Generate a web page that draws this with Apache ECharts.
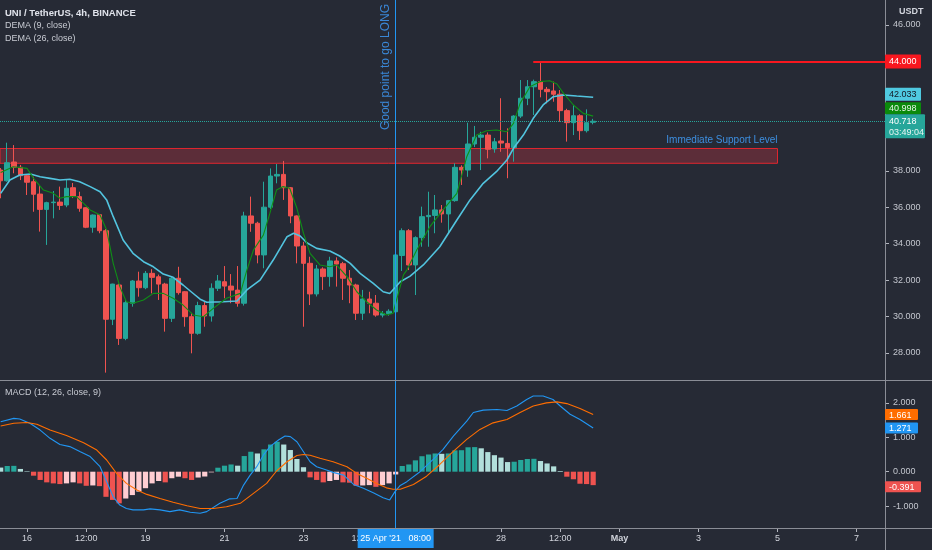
<!DOCTYPE html>
<html><head><meta charset="utf-8">
<script src="https://cdn.jsdelivr.net/npm/echarts@6/dist/echarts.min.js"></script>
<style>html,body{margin:0;padding:0;background:#262a35;}#c{width:932px;height:550px;}</style>
</head><body><div id="c"></div>
<script>
// ---- candles (index 0 = 15 Apr 08:00, 4h each) ----
const opens  = [38.04,37.45,38.48,38.19,37.73,37.40,36.72,35.88,36.25,36.28,36.12,37.07,36.58,35.97,34.90,35.59,34.71,29.85,31.73,28.80,30.73,31.95,31.58,32.37,32.18,31.78,29.90,32.10,31.36,29.99,29.08,30.60,30.03,31.55,31.91,31.67,31.45,30.73,35.52,35.12,33.38,36.00,37.71,37.80,37.07,35.52,33.87,32.92,31.24,32.61,32.19,33.05,32.90,32.10,31.73,30.18,30.96,30.73,30.08,30.16,30.26,33.35,34.71,32.83,34.33,35.48,35.55,35.85,35.63,36.36,38.19,38.04,39.47,39.84,39.96,39.20,39.63,39.50,39.27,41.00,41.98,42.61,42.89,42.47,42.38,42.20,41.30,40.64,41.02,40.20,40.66];
const closes = [37.45,38.44,38.19,37.73,37.37,36.71,35.88,36.25,36.28,36.10,37.04,36.61,35.94,34.90,35.57,34.71,29.85,31.78,28.80,30.76,31.95,31.58,32.37,32.15,31.78,29.90,32.10,31.31,29.99,29.08,30.60,30.03,31.55,31.95,31.67,31.45,30.73,35.52,35.12,33.38,36.00,37.71,37.80,37.07,35.52,33.87,32.92,31.24,32.61,32.19,33.05,32.88,32.10,31.73,30.18,30.96,30.73,30.08,30.16,30.29,33.38,34.71,32.83,34.33,35.48,35.55,35.85,35.63,36.36,38.19,38.04,39.47,39.84,39.96,39.18,39.59,39.52,39.27,41.00,41.98,42.61,42.89,42.47,42.34,42.20,41.30,40.64,41.02,40.20,40.64,40.718];
const lows   = [36.49,37.40,37.86,37.49,36.67,35.75,34.66,33.93,35.39,35.85,36.00,36.50,35.75,34.85,34.60,34.57,26.92,29.53,28.44,28.70,30.54,31.09,31.50,31.27,30.91,29.17,29.70,31.20,29.44,27.98,29.00,29.44,29.72,31.40,31.00,30.73,30.54,30.60,34.65,32.92,32.65,35.90,37.31,36.40,35.12,32.92,29.44,30.63,31.10,31.46,31.64,31.64,30.91,30.73,29.81,29.81,30.18,29.99,29.95,30.05,30.20,32.50,32.55,31.18,33.83,33.83,34.57,35.15,34.57,36.30,37.22,37.67,39.30,38.04,38.68,38.99,39.04,37.59,38.50,40.90,41.60,41.06,42.03,41.70,41.79,40.69,39.60,39.96,39.69,40.10,40.55];
const highs  = [38.15,39.54,39.41,38.32,37.80,37.67,37.22,36.30,36.89,37.13,37.53,37.33,36.85,36.00,35.60,35.62,34.80,31.80,31.80,30.90,32.00,32.46,32.50,32.60,32.30,31.85,32.22,32.73,31.40,30.20,30.81,30.80,31.82,32.28,32.77,32.33,32.77,35.75,36.58,35.20,37.40,38.13,38.37,38.54,37.10,35.55,34.10,33.28,32.83,32.70,33.28,33.25,33.00,32.55,31.80,31.46,31.36,31.18,30.30,30.40,33.45,34.84,34.80,34.40,36.03,36.85,36.67,36.12,36.40,38.41,38.30,40.64,40.46,40.14,40.10,39.80,41.98,40.33,41.05,42.98,42.98,43.00,44.00,42.60,42.89,42.43,41.40,41.61,41.10,41.37,40.85];
// ---- DEMA lines [candle index, value] ----
const dema9 = [[0,37.9],[1.9,38.22],[4,38.13],[5,37.58],[6.5,36.94],[8,36.76],[9,36.49],[10,36.58],[11.5,36.58],[12.6,36.21],[13.6,35.85],[15.1,35.57],[16.1,34.75],[17.1,32.92],[18.1,31.64],[19.1,30.81],[20.1,30.73],[21.7,30.91],[23.2,31.27],[24.7,31.27],[26.2,31.0],[27.7,30.63],[29.3,30.08],[30.8,29.99],[32.3,30.45],[34.3,31.0],[36.4,31.27],[37.4,32.55],[38.4,33.65],[39.9,34.47],[40.9,35.67],[41.9,36.94],[42.9,37.13],[43.9,37.04],[45,35.94],[46,34.57],[47,33.47],[48.5,32.83],[50,32.73],[51,32.83],[52.6,32.19],[54.1,31.36],[55.6,30.81],[57.1,30.36],[58.6,30.08],[59.6,30.18],[60.2,31.0],[61.2,32.3],[61.7,32.55],[63.2,33.65],[65.2,34.93],[67.2,35.85],[69.3,36.76],[70.8,38.77],[72.3,39.96],[73.8,40.20],[75.3,40.24],[76.9,40.14],[77.9,40.60],[78.9,41.70],[80.4,42.61],[81.9,42.89],[83.4,42.94],[84.5,42.76],[85.5,42.25],[87,41.61],[88.5,41.15],[90,40.998]];
const dema26 = [[0,36.76],[1.4,37.49],[2.9,37.77],[4.5,37.82],[6,37.67],[7.5,37.58],[9,37.49],[10.5,37.53],[12,37.40],[13.6,37.13],[15.1,36.85],[16.1,36.40],[17.1,35.48],[18.6,34.20],[20.1,33.47],[21.7,33.01],[23.2,32.73],[24.7,32.33],[26.2,32.15],[27.7,31.73],[29.3,31.25],[30.3,30.95],[31.3,30.78],[33.8,30.81],[35.9,30.85],[37.4,31.46],[39.4,32.0],[41.4,33.10],[43.5,34.38],[44.5,34.57],[45.5,34.42],[46.5,34.05],[48,33.74],[50,33.60],[51.5,33.32],[53.1,32.92],[54.6,32.37],[56.6,31.82],[58.1,31.36],[59.1,31.26],[60.7,31.91],[62.2,32.22],[64.2,32.83],[66.7,33.83],[69.3,35.30],[71.3,36.40],[73.3,37.31],[75.3,37.95],[76.9,38.59],[77.9,39.23],[79.4,39.96],[80.9,40.88],[82.4,41.61],[83.9,42.06],[85.5,42.16],[87.5,42.10],[90,42.033]];
// ---- MACD ----
const macdLine = [[0,1.45],[2,1.55],[2.9,1.53],[4.5,1.40],[6,1.21],[7.5,0.97],[9,0.79],[10.5,0.73],[12.1,0.58],[13.6,0.44],[15.1,0.145],[16.1,-0.29],[17.1,-0.73],[18.1,-0.97],[19.1,-1.07],[20.1,-1.11],[21.7,-1.11],[22.7,-1.08],[24.2,-1.11],[25.7,-1.16],[27.2,-1.11],[28.8,-1.18],[30.3,-1.21],[31.3,-1.16],[33.3,-0.92],[34.8,-0.79],[35.9,-0.78],[36.9,-0.39],[37.9,-0.10],[38.9,0.145],[39.9,0.48],[40.9,0.73],[42.2,0.92],[43.2,1.04],[44,1.02],[45,0.87],[46,0.58],[47,0.29],[48,0.145],[49.5,0.05],[50.5,-0.02],[52.1,-0.10],[53.6,-0.37],[55.1,-0.48],[56.6,-0.61],[58.1,-0.76],[59.1,-0.82],[59.9,-0.58],[60.7,-0.40],[61.7,-0.29],[63.7,0],[65.7,0.36],[67.2,0.65],[68.8,1.04],[70.8,1.47],[71.8,1.72],[73.3,1.79],[75.4,1.81],[76.9,1.78],[78.4,1.91],[79.9,2.10],[80.9,2.2],[82.4,2.2],[83.9,2.10],[85,1.91],[86.5,1.67],[88,1.52],[90,1.271]];
const signalLine = [[0,1.33],[2,1.41],[4,1.43],[5.5,1.38],[7.5,1.21],[10,1.05],[12.6,0.84],[14.6,0.63],[16.1,0.34],[17.6,-0.05],[19.1,-0.34],[20.7,-0.53],[22.2,-0.66],[24.2,-0.78],[26.2,-0.89],[28.3,-0.99],[30.3,-1.07],[32.3,-1.07],[34.3,-1.02],[36.4,-0.92],[38.4,-0.63],[40.4,-0.34],[41.9,0.02],[43.5,0.29],[45,0.47],[46,0.50],[47,0.48],[48.5,0.39],[50.5,0.29],[52.6,0.145],[54.1,-0.05],[55.6,-0.19],[57.1,-0.34],[58.6,-0.47],[59.6,-0.51],[60.7,-0.51],[62.7,-0.37],[64.7,-0.13],[66.7,0.21],[68.8,0.60],[70.8,0.94],[72.8,1.23],[74.8,1.42],[76.9,1.52],[78.9,1.72],[80.9,1.91],[82.9,2.0],[84.5,2.03],[86,1.98],[88,1.84],[90,1.661]];
const histogram = [0.12,0.165,0.17,0.08,0.015,-0.116,-0.24,-0.31,-0.34,-0.36,-0.34,-0.31,-0.34,-0.41,-0.40,-0.42,-0.73,-0.82,-0.92,-0.78,-0.68,-0.58,-0.48,-0.34,-0.27,-0.31,-0.19,-0.145,-0.19,-0.24,-0.17,-0.14,-0.02,0.116,0.175,0.21,0.175,0.455,0.58,0.53,0.65,0.79,0.87,0.79,0.63,0.37,0.13,-0.165,-0.24,-0.31,-0.27,-0.24,-0.31,-0.32,-0.41,-0.40,-0.39,-0.44,-0.39,-0.34,-0.08,0.165,0.21,0.33,0.45,0.50,0.53,0.52,0.53,0.62,0.625,0.71,0.715,0.68,0.57,0.48,0.41,0.28,0.29,0.34,0.37,0.375,0.31,0.24,0.155,0.02,-0.145,-0.22,-0.35,-0.36,-0.391];
// ---- levels / annotations ----
const resistance = 44.0;
const resistanceStart = 80.9;
const supportZone = [38.41, 39.22];
const supportZoneEnd = 118;
const entryIdx = 60;
const entryLabel = "25 Apr '21   08:00";
const countdown = '03:49:04';
// ---- ticks ----
const priceTicks = [28,30,32,34,36,38,40,42,44,46];
const macdTicks = [-1,0,1,2];
const timeTickIdx = [4,13,22,34,46,55,76,85,94,106,118,130];
const timeTickText = ['16','12:00','19','21','23','12:00','28','12:00','May','3','5','7'];

const FONT = '"Liberation Sans", Arial, sans-serif';
const UP = '#26a69a', DOWN = '#ef5350';
const X_MIN = -0.1, X_MAX = 134.33;

const histColors = histogram.map((v, i) => {
  const prev = i === 0 ? v + 0.05 : histogram[i - 1];
  if (v >= 0) return v >= prev ? '#26a69a' : '#b2dfdb';
  return v < prev ? '#ef5350' : '#ffcdd2';
});

const option = {
  backgroundColor: '#262a35',
  animation: false,
  grid: [
    {left: 0, right: 47, top: 0, height: 380},
    {left: 0, right: 47, top: 381, height: 147}
  ],
  xAxis: [
    {type: 'value', gridIndex: 0, min: X_MIN, max: X_MAX, show: false, axisLine: {onZero: false}},
    {type: 'value', gridIndex: 1, min: X_MIN, max: X_MAX, position: 'bottom',
     axisLine: {show: false, onZero: false}, splitLine: {show: false},
     axisTick: {show: true, customValues: timeTickIdx, length: 4, lineStyle: {color: '#b2b5be'}},
     axisLabel: {customValues: timeTickIdx, margin: 6, color: '#d1d4dc', fontSize: 9, fontFamily: FONT,
       formatter: v => { const t = timeTickText[timeTickIdx.indexOf(v)]; return t === 'May' ? '{b|May}' : t; },
       rich: {b: {fontWeight: 'bold', fontSize: 9, color: '#d1d4dc', fontFamily: FONT}}}}
  ],
  yAxis: [
    {type: 'value', gridIndex: 0, position: 'right', min: 26.516, max: 47.372,
     axisLine: {show: false, onZero: false}, splitLine: {show: false},
     axisTick: {show: true, customValues: priceTicks, length: 4, lineStyle: {color: '#b2b5be'}},
     axisLabel: {customValues: priceTicks, margin: 8, color: '#c3c6ce', fontSize: 9, fontFamily: FONT,
       formatter: v => v.toFixed(3)}},
    {type: 'value', gridIndex: 1, position: 'right', min: -1.637, max: 2.637,
     axisLine: {show: false, onZero: false}, splitLine: {show: false},
     axisTick: {show: true, customValues: macdTicks, length: 4, lineStyle: {color: '#b2b5be'}},
     axisLabel: {customValues: macdTicks, margin: 8, color: '#c3c6ce', fontSize: 9, fontFamily: FONT,
       formatter: v => v.toFixed(3)}}
  ],
  series: [
    {type: 'candlestick', xAxisIndex: 0, yAxisIndex: 0,
     data: opens.map((o, i) => [i, o, closes[i], lows[i], highs[i]]),
     encode: {x: 0, y: [1, 2, 3, 4]},
     barWidth: 5,
     itemStyle: {color: UP, color0: DOWN, borderColor: UP, borderColor0: DOWN, borderWidth: 1},
     markArea: {silent: true,
       itemStyle: {color: 'rgba(242,54,69,0.27)', borderColor: '#e0262f', borderWidth: 1},
       data: [[{coord: [X_MIN, supportZone[1]]}, {coord: [supportZoneEnd, supportZone[0]]}]]},
     markLine: {silent: true, symbol: 'none', animation: false,
       data: [
         {yAxis: closes[closes.length - 1], lineStyle: {color: '#26a69a', type: 'dotted', width: 1}, label: {show: false}},
         [{coord: [resistanceStart, resistance]}, {coord: [X_MAX, resistance]}],
         {xAxis: entryIdx, lineStyle: {color: '#2196f3', type: 'solid', width: 1},
          label: {show: true, position: 'insideEndTop', formatter: 'Good point to go LONG',
                  color: '#3a87d6', fontSize: 12, fontFamily: FONT, distance: 4}}
       ],
       lineStyle: {color: '#f7171f', width: 2, type: 'solid'},
       label: {show: false}}
    },
    {type: 'line', xAxisIndex: 0, yAxisIndex: 0, data: dema26, showSymbol: false, smooth: false,
     lineStyle: {color: '#52c4df', width: 1.6}, z: 3},
    {type: 'line', xAxisIndex: 0, yAxisIndex: 0, data: dema9, showSymbol: false, smooth: false,
     lineStyle: {color: '#0f8f16', width: 1.1}, z: 4},
    {type: 'bar', xAxisIndex: 1, yAxisIndex: 1, barWidth: 5.2,
     data: histogram.map((v, i) => ({value: [i, v], itemStyle: {color: histColors[i]}})),
     markLine: {silent: true, symbol: 'none', animation: false,
       data: [{xAxis: entryIdx}],
       lineStyle: {color: '#2196f3', type: 'solid', width: 1}, label: {show: false}}},
    {type: 'line', xAxisIndex: 1, yAxisIndex: 1, data: macdLine, showSymbol: false,
     lineStyle: {color: '#2196f3', width: 1.1}, z: 4},
    {type: 'line', xAxisIndex: 1, yAxisIndex: 1, data: signalLine, showSymbol: false,
     lineStyle: {color: '#ff6d00', width: 1.1}, z: 4}
  ]
};

const chart = echarts.init(document.getElementById('c'));
chart.setOption(option);

const yP = v => chart.convertToPixel({yAxisIndex: 0}, v);
const yM = v => chart.convertToPixel({yAxisIndex: 1}, v);
const xP = v => chart.convertToPixel({xAxisIndex: 0}, v);

const g = [];
const txt = (id, text, x, y, opt) => g.push(Object.assign({type: 'text', id, z: 120,
  style: Object.assign({text, x, y, fill: '#d1d4dc', font: '9px ' + FONT, verticalAlign: 'middle', align: 'left'}, opt || {})}));
const line = (id, x1, y1, x2, y2, color) => g.push({type: 'line', id, z: 110, silent: true,
  shape: {x1, y1, x2, y2}, style: {stroke: color || '#8a8d96', lineWidth: 1}});
const tag = (id, text, y, w, h, bg, fg) => {
  g.push({type: 'rect', id: id + 'r', z: 130, shape: {x: 885, y: y - h / 2, width: w, height: h, r: 1}, style: {fill: bg}});
  g.push({type: 'text', id: id + 't', z: 131, style: {text, x: 889, y: y + 0.5, fill: fg, font: '9px ' + FONT, verticalAlign: 'middle', align: 'left'}});
};

// chrome
line('sep', 0, 380.5, 932, 380.5, '#8a8d96');
line('bot', 0, 528.5, 932, 528.5, '#8a8d96');
line('vax', 885.5, 0, 885.5, 550, '#8a8d96');

// legends
txt('l1', 'UNI / TetherUS, 4h, BINANCE', 5, 13, {font: 'bold 9.5px ' + FONT, fill: '#e0e3eb'});
txt('l2', 'DEMA (9, close)', 5, 26, {fill: '#c8cbd3'});
txt('l3', 'DEMA (26, close)', 5, 39, {fill: '#c8cbd3'});
txt('l4', 'MACD (12, 26, close, 9)', 5, 393, {fill: '#c8cbd3'});
txt('usdt', 'USDT', 899, 12, {font: 'bold 9px ' + FONT, fill: '#d1d4dc'});

// support label
txt('sup', 'Immediate Support Level', xP(supportZoneEnd), yP(supportZone[1]) - 8,
    {align: 'right', font: '10px ' + FONT, fill: '#3d8fe0'});

// price tags
tag('t44', resistance.toFixed(3), yP(resistance), 36, 14, '#f7171f', '#ffffff');
tag('t26', dema26[dema26.length - 1][1].toFixed(3), yP(dema26[dema26.length - 1][1]) - 3, 36, 13, '#4fc9e0', '#131722');
tag('t9', dema9[dema9.length - 1][1].toFixed(3), yP(dema9[dema9.length - 1][1]) - 8, 36, 12, '#0b8a0b', '#e6f5e6');
const lastY = yP(closes[closes.length - 1]);
g.push({type: 'rect', id: 'tcr', z: 132, shape: {x: 885, y: lastY - 7, width: 40, height: 24, r: 1}, style: {fill: '#26a69a'}});
g.push({type: 'text', id: 'tct1', z: 133, style: {text: closes[closes.length - 1].toFixed(3), x: 889, y: lastY + 0.5, fill: '#ffffff', font: '9px ' + FONT, verticalAlign: 'middle'}});
g.push({type: 'text', id: 'tct2', z: 133, style: {text: countdown, x: 889, y: lastY + 11.5, fill: '#e8f5f3', font: '9px ' + FONT, verticalAlign: 'middle'}});

// macd tags
tag('ts', signalLine[signalLine.length - 1][1].toFixed(3), yM(signalLine[signalLine.length - 1][1]), 33, 11, '#ff6d00', '#ffffff');
tag('tm', macdLine[macdLine.length - 1][1].toFixed(3), yM(macdLine[macdLine.length - 1][1]), 33, 11, '#2196f3', '#ffffff');
tag('th', histogram[histogram.length - 1].toFixed(3), yM(histogram[histogram.length - 1]) + 1.5, 36, 11, '#ef5350', '#ffffff');

// crosshair time label
const cx = xP(entryIdx);
g.push({type: 'rect', id: 'chr', z: 140, shape: {x: cx - 38, y: 529, width: 76, height: 19}, style: {fill: '#2196f3'}});
g.push({type: 'text', id: 'cht', z: 141, style: {text: entryLabel, x: cx, y: 539, fill: '#ffffff', font: '9px ' + FONT, align: 'center', verticalAlign: 'middle'}});

chart.setOption({graphic: g});
</script>
</body></html>
